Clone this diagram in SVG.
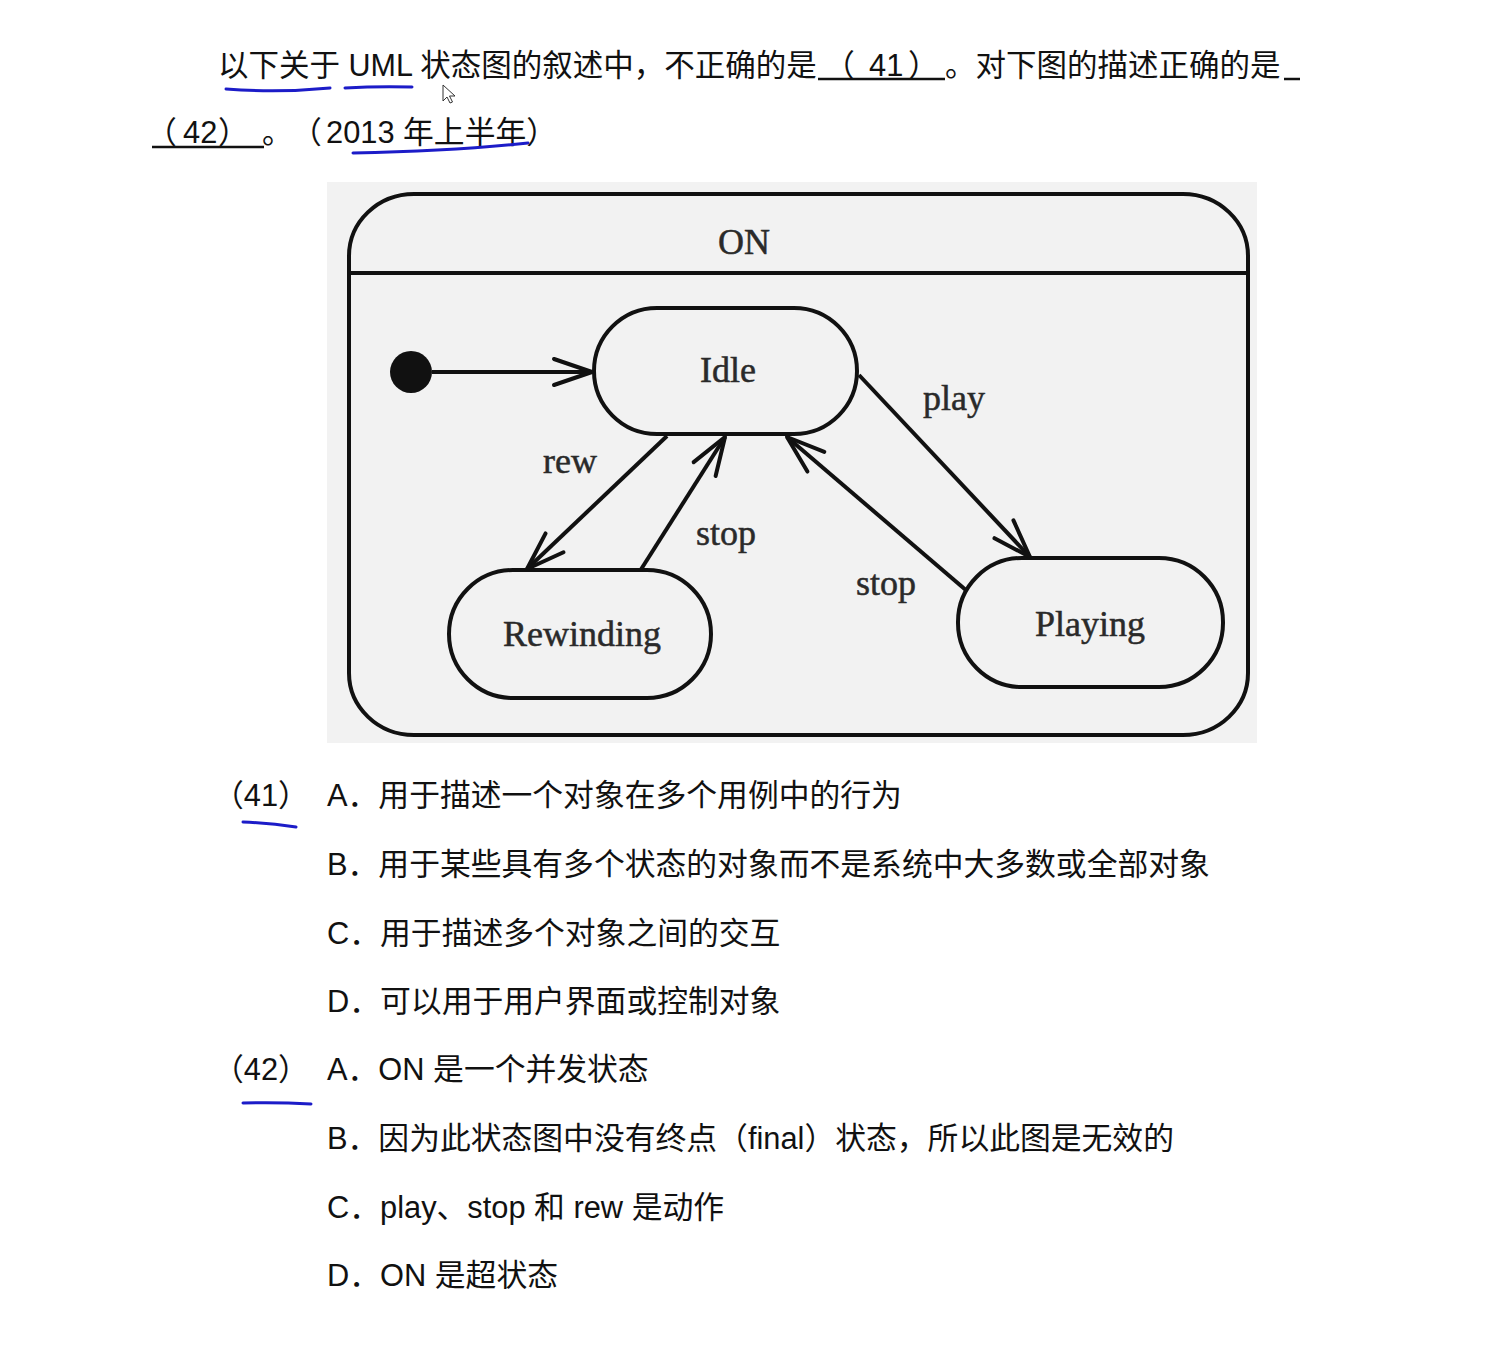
<svg xmlns="http://www.w3.org/2000/svg" width="1495" height="1347" viewBox="0 0 1495 1347">
<style>
.q{font-family:"Liberation Sans","Noto Sans CJK SC",sans-serif;font-size:30.8px;fill:#111}
.d{font-family:"Liberation Serif","DejaVu Serif",serif;font-size:36px;fill:#2a2a2a;stroke:#2a2a2a;stroke-width:0.5}
.st{fill:none;stroke:#111;stroke-width:4}
.ul{stroke:#111;stroke-width:2.5}
.pen{fill:none;stroke:#1c1cc8;stroke-width:3;stroke-linecap:round}
.cn{fill:none;stroke:#111;stroke-width:4;marker-end:url(#open)}
</style>
<defs>
<marker id="open" viewBox="-4 -4 48 36" refX="40" refY="14" markerWidth="48" markerHeight="36" orient="auto" markerUnits="userSpaceOnUse">
<path d="M2,1 L40,14 L2,27" fill="none" stroke="#111" stroke-width="4" stroke-linecap="round" stroke-linejoin="round"/>
</marker>
</defs>
<rect width="1495" height="1347" fill="#ffffff"/>

<g id="question">
<text class="q" x="218" y="76" style="font-size:30.5px">以下关于 UML 状态图的叙述中，不正确的是</text>
<line class="ul" x1="818" y1="79" x2="945" y2="79"/>
<text class="q" y="76"><tspan x="824">（</tspan><tspan x="869">41</tspan><tspan x="908">）</tspan></text>
<text class="q" x="945" y="76" style="font-size:30.5px">。对下图的描述正确的是</text>
<line class="ul" x1="1284" y1="79" x2="1300" y2="79"/>
<text class="q" y="143"><tspan x="146">（</tspan><tspan x="183">42</tspan><tspan x="218">）</tspan></text>
<line class="ul" x1="152" y1="147" x2="264" y2="147"/>
<text class="q" y="143"><tspan x="262">。</tspan><tspan x="291">（</tspan><tspan x="326">2013 年上半年）</tspan></text>
<path class="pen" d="M226,89 Q278,93 330,88"/>
<path class="pen" d="M345,88 Q378,86 412,87"/>
<path class="pen" d="M353,153 Q455,151 528,143"/>
<path d="M443,85 L443,101 L447,97 L450,103 L452.5,102 L449.5,96 L455,96 Z" fill="#fff" stroke="#333" stroke-width="1"/>
</g>

<g id="diagram">
<rect x="327" y="182" width="930" height="561" fill="#f2f2f2"/>
<g id="on">
<rect class="st" x="349" y="194" width="899" height="541" rx="65" ry="62"/>
<line class="st" x1="349" y1="273" x2="1248" y2="273"/>
<text class="d" x="744" y="254" text-anchor="middle">ON</text>
</g>
<g id="initial">
<circle cx="411" cy="372" r="21" fill="#111"/>
</g>
<g id="idle">
<rect class="st" x="594" y="308" width="263" height="126" rx="63" ry="63"/>
<text class="d" x="728" y="382" text-anchor="middle">Idle</text>
</g>
<g id="rewinding">
<rect class="st" x="449" y="570" width="262" height="128" rx="64" ry="64"/>
<text class="d" x="582" y="646" text-anchor="middle">Rewinding</text>
</g>
<g id="playing">
<rect class="st" x="958" y="558" width="265" height="129" rx="64" ry="64"/>
<text class="d" x="1090" y="636" text-anchor="middle">Playing</text>
</g>
<g id="connectors">
<path class="cn" d="M432,372 L592,372"/>
<path class="cn" d="M667,436 L527,569"/>
<path class="cn" d="M640,571 L725,437"/>
<path class="cn" d="M859,375 L1030,557"/>
<path class="cn" d="M967,591 L787,437"/>
<text class="d" x="543" y="473">rew</text>
<text class="d" x="696" y="545">stop</text>
<text class="d" x="923" y="410">play</text>
<text class="d" x="856" y="595">stop</text>
</g>
</g>

<g id="options">
<text class="q" x="213" y="806">（41）</text>
<path class="pen" d="M243,822 Q270,823 296,827"/>
<text class="q" x="327" y="806">A．用于描述一个对象在多个用例中的行为</text>
<text class="q" x="327" y="875">B．用于某些具有多个状态的对象而不是系统中大多数或全部对象</text>
<text class="q" x="327" y="944">C．用于描述多个对象之间的交互</text>
<text class="q" x="327" y="1012">D．可以用于用户界面或控制对象</text>
<text class="q" x="213" y="1080">（42）</text>
<path class="pen" d="M243,1103 Q277,1102 311,1104"/>
<text class="q" x="327" y="1080">A．ON 是一个并发状态</text>
<text class="q" x="327" y="1149">B．因为此状态图中没有终点（final）状态，所以此图是无效的</text>
<text class="q" x="327" y="1218">C．play、stop 和 rew 是动作</text>
<text class="q" x="327" y="1286">D．ON 是超状态</text>
</g>
</svg>
